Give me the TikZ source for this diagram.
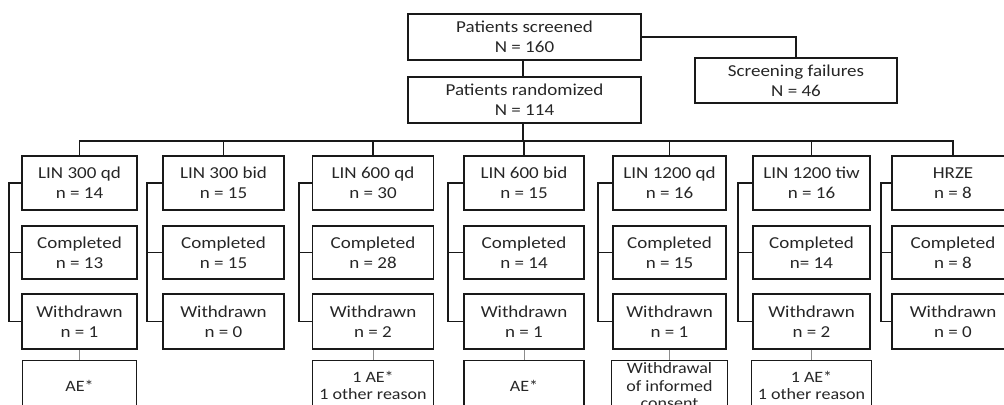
\documentclass[tikz,border=0pt]{standalone}
\usepackage{fontspec}
\setmainfont[FakeStretch=1.14]{Carlito}
\usetikzlibrary{positioning}

\begin{document}
\begin{tikzpicture}[x=0.02cm, y=-0.02cm,
		box/.style={draw=black!90, line width=0.9pt, inner sep=0pt, align=center, text=black!85, font=\fontsize{9.5}{11.4}\selectfont},
		reason/.style={box, minimum height=1.0cm, font=\fontsize{9}{9.7}\selectfont},
		link/.style={black!90, line width=0.75pt},
		faint/.style={black!45, line width=0.5pt}]
		\useasboundingbox (0,0) rectangle (1004,405);
		\clip (0,0) rectangle (1004,405);
		\node[box, minimum width=4.66cm, minimum height=0.92cm] (scr) at (524.5,37) {Patients screened\\N = 160};
		\node[box, minimum width=4.66cm, minimum height=0.92cm] (rand) at (524.5,100) {Patients randomized\\N = 114};
		\node[box, minimum width=4.04cm, minimum height=0.9cm] (fail) at (796,80.5) {Screening failures\\N = 46};
		\coordinate (bus) at (523,141);
		\draw[link] (scr.south -| bus) -- (rand.north -| bus);
		\draw[link] (rand.south -| bus) -- (bus);
		\draw[link] (scr.east) -| (fail.north);
		\foreach \i/\cx/\bx/\w/\arm/\na/\nc/\nw in {
			1/79.5/9/2.30/LIN 300 qd/n = 14/n = 13/n = 1,
			2/223.5/147/2.42/LIN 300 bid/n = 15/n = 15/n = 0,
			3/373/299/2.42/LIN 600 qd/n = 30/n = 28/n = 2,
			4/524/448/2.40/LIN 600 bid/n = 15/n = 14/n = 1,
			5/669.5/598/2.26/LIN 1200 qd/n = 16/n = 15/n = 1,
			6/811.5/738/2.34/LIN 1200 tiw/n = 16/n= 14/n = 2,
			7/953/881/2.44/HRZE/n = 8/n = 8/n = 0} {
			\node[box, minimum width=\w cm, minimum height=1.08cm] (arm\i) at (\cx,183) {\arm\\\na};
			\node[box, minimum width=\w cm, minimum height=1.06cm] (comp\i) at (\cx,252.5) {Completed\\\nc};
			\node[box, minimum width=\w cm, minimum height=1.1cm] (wd\i) at (\cx,321.5) {Withdrawn\\\nw};
			\coordinate (br\i) at (\bx,183);
			\draw[link] (arm\i.north) |- (bus);
			\draw[link] (arm\i.west) -- (br\i) |- (wd\i.west);
			\draw[link] (comp\i.west) -- (comp\i.west -| br\i);
		}
		\foreach \i/\w/\why in {
			1/2.28/AE*,
			3/2.42/1 AE*\\1 other reason,
			4/2.40/AE*,
			5/2.32/Withdrawal\\of informed\\consent,
			6/2.40/1 AE*\\1 other reason} {
			\node[reason, minimum width=\w cm, below=0.2cm of wd\i] (rs\i) {\why};
			\draw[faint] (wd\i.south) -- (rs\i.north);
		}
	\end{tikzpicture}
\end{document}
